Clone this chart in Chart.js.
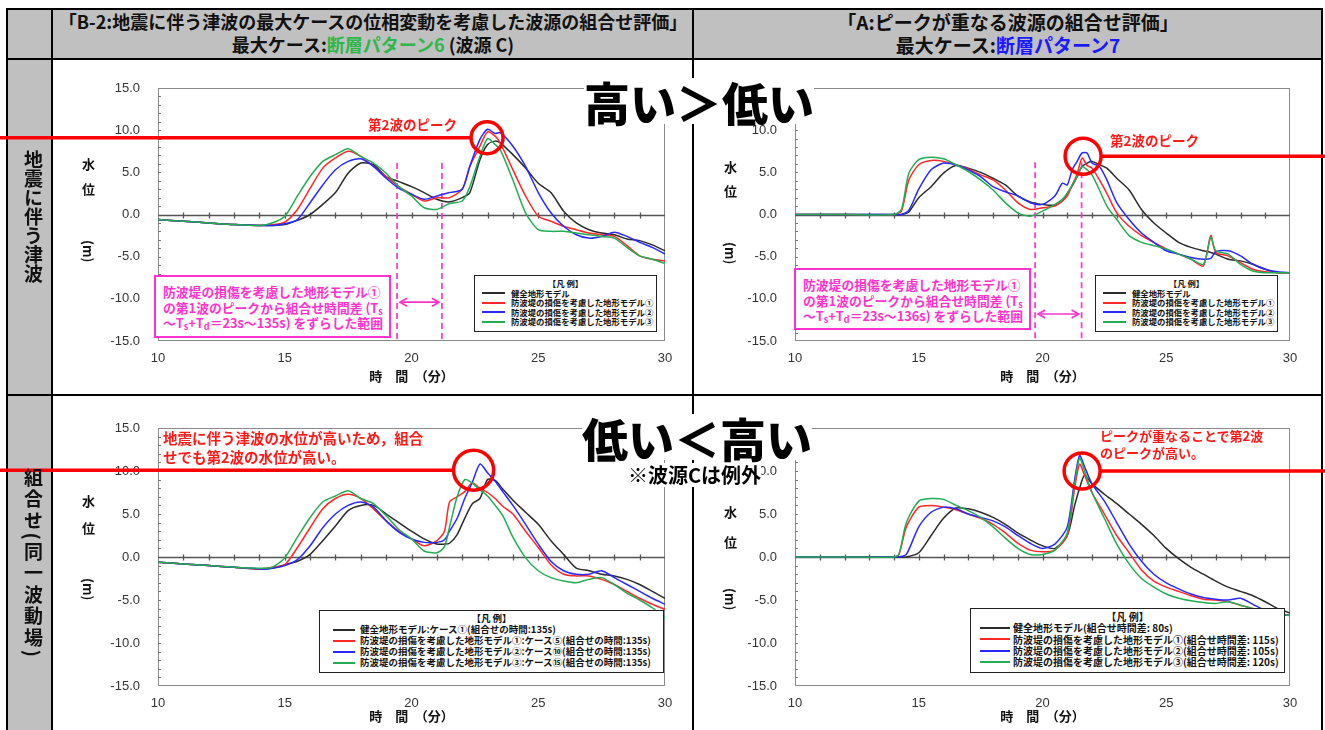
<!DOCTYPE html>
<html lang="ja">
<head>
<meta charset="utf-8">
<script src="https://cdn.jsdelivr.net/npm/chart.js@4.4.1/dist/chart.umd.min.js"></script>
<style>
  body { margin: 0; width: 1325px; height: 730px; overflow: hidden; background: #fff; position: relative;
         font-family: "Noto Sans CJK JP", sans-serif; }
  .gray { position: absolute; background: #c0c0c0; }
  .bk { position: absolute; background: #000; }
  canvas { position: absolute; z-index: 1; }
  .ov { position: absolute; z-index: 2; font-weight: bold; white-space: nowrap; }
  .hd { text-align: center; font-size: 18px; line-height: 23px; color: #111; }
  .side { writing-mode: vertical-rl; font-size: 19px; color: #111; }
  .big { font-size: 46px; line-height: 46px; background: #fff; color: #000; font-weight: 900; }
  .red { color: #ff1a1a; font-size: 13.5px; line-height: 19px; }
  .yt { font-size: 13px; line-height: 13px; color: #111; }
  .ym { writing-mode: vertical-rl; font-size: 13px; line-height: 13px; color: #111; }
  .mg { background: #fff; border: 2px solid #ff33cc; color: #ff33cc; font-size: 12.8px; line-height: 15.5px;
        padding: 7px 0 0 7px; box-sizing: border-box; }
  .mg sub { font-size: 9px; line-height: 0; vertical-align: -2px; }
  .lg { background: #fff; border: 1.5px solid #222; color: #111; box-sizing: border-box; }
  .lgt { text-align: center; }
  .lgr { position: relative; }
  .sw { position: absolute; display: block; top: calc(50% - 1px); height: 2px; }
</style>
</head>
<body>
<!-- table cells -->
<div class="gray" style="left:7px;top:9px;width:1315px;height:50px"></div>
<div class="gray" style="left:7px;top:59px;width:45px;height:671px"></div>
<div class="bk" style="left:6px;top:8px;width:1317px;height:2px"></div>
<div class="bk" style="left:6px;top:58px;width:1317px;height:2px"></div>
<div class="bk" style="left:6px;top:394px;width:1317px;height:2px"></div>
<div class="bk" style="left:6px;top:8px;width:2px;height:722px"></div>
<div class="bk" style="left:51px;top:8px;width:2px;height:722px"></div>
<div class="bk" style="left:692px;top:8px;width:2px;height:722px"></div>
<div class="bk" style="left:1321px;top:8px;width:2px;height:722px"></div>

<div class="ov hd" style="left:53px;top:10px;width:640px">「B-2:地震に伴う津波の最大ケースの位相変動を考慮した波源の組合せ評価」<br>最大ケース:<span style="color:#2db84d">断層パターン6</span> (波源 C)</div>
<div class="ov hd" style="left:694px;top:10px;width:628px;font-size:19px">「A:ピークが重なる波源の組合せ評価」<br>最大ケース:<span style="color:#1a1aff">断層パターン7</span></div>
<div class="ov side" style="left:20px;top:150px">地震に伴う津波</div>
<div class="ov side" style="left:20px;top:468px;letter-spacing:2.5px">組合せ(同一波動場)</div>

<canvas id="cTL" width="693" height="334" style="left:0;top:60px"></canvas>
<canvas id="cTR" width="631" height="334" style="left:694px;top:60px"></canvas>
<canvas id="cBL" width="693" height="334" style="left:0;top:396px"></canvas>
<canvas id="cBR" width="631" height="334" style="left:694px;top:396px"></canvas>

<!-- y axis titles -->
<div class="ov yt" style="left:82px;top:157px">水</div>
<div class="ov yt" style="left:82px;top:182px">位</div>
<div class="ov ym" style="left:82px;top:240px">(m)</div>
<div class="ov yt" style="left:724px;top:160px">水</div>
<div class="ov yt" style="left:724px;top:184px">位</div>
<div class="ov ym" style="left:724px;top:242px">(m)</div>
<div class="ov yt" style="left:82px;top:494px">水</div>
<div class="ov yt" style="left:82px;top:521px">位</div>
<div class="ov ym" style="left:82px;top:578px">(m)</div>
<div class="ov yt" style="left:724px;top:505px">水</div>
<div class="ov yt" style="left:724px;top:535px">位</div>
<div class="ov ym" style="left:724px;top:588px">(m)</div>

<!-- annotations -->
<div class="ov red" style="left:368px;top:115px">第2波のピーク</div>
<div class="ov red" style="left:1110px;top:131px">第2波のピーク</div>
<div class="ov red" style="left:163px;top:428px;font-size:14.5px">地震に伴う津波の水位が高いため，組合<br>せでも第2波の水位が高い。</div>
<div class="ov red" style="left:1100px;top:427px;line-height:17px;font-size:13px">ピークが重なることで第2波<br>のピークが高い。</div>

<div class="ov mg" style="left:154px;top:275px;width:237px;height:63px">防波堤の損傷を考慮した地形モデル①<br>の第1波のピークから組合せ時間差 (T<sub>s</sub><br>～T<sub>s</sub>+T<sub>d</sub>＝23s～135s) をずらした範囲</div>
<div class="ov mg" style="left:794px;top:268px;width:237px;height:62px">防波堤の損傷を考慮した地形モデル①<br>の第1波のピークから組合せ時間差 (T<sub>s</sub><br>～T<sub>s</sub>+T<sub>d</sub>＝23s～136s) をずらした範囲</div>

<div id="lgTL" class="ov lg" style="left:474px;top:275px;width:183px;height:57px;font-size:8.4px;line-height:9.5px;padding-top:3px"></div>
<div id="lgTR" class="ov lg" style="left:1095px;top:275px;width:183px;height:57px;font-size:8.4px;line-height:9.5px;padding-top:3px"></div>
<div id="lgBL" class="ov lg" style="left:319px;top:610px;width:345px;height:63px;font-size:9.5px;line-height:11px;padding-top:2px"></div>
<div id="lgBR" class="ov lg" style="left:970px;top:608px;width:315px;height:65px;font-size:10px;line-height:11.3px;padding-top:2px"></div>

<div class="ov big" style="left:584px;top:78px">高い＞低い</div>
<div class="ov big" style="left:582px;top:414px">低い＜高い</div>
<div class="ov" style="left:628px;top:463px;font-size:20px;line-height:24px;background:#fff;color:#000">※波源Cは例外</div>

<script>
// 時間 (分)
const T_TL = [10, 11, 12, 13, 14, 14.5, 15, 15.5, 16, 16.5, 17, 17.5, 18, 18.5, 19, 19.5, 20, 20.5, 21, 21.5, 22, 22.3, 22.7, 23, 23.3, 23.5, 24, 24.5, 25, 25.5, 26, 26.5, 27, 27.5, 28, 28.5, 29, 29.5, 30];
const T_TR = [10, 12, 14, 14.3, 14.6, 15, 15.5, 16, 16.5, 17, 17.5, 18, 18.5, 19, 19.5, 20, 20.5, 20.8, 21, 21.2, 21.4, 21.6, 21.8, 22, 22.3, 22.6, 23, 23.5, 24, 24.5, 25, 25.5, 26, 26.5, 26.8, 27, 27.5, 28, 28.5, 29, 29.5, 30];
const T_BL = [10, 11, 12, 13, 14, 14.5, 15, 15.5, 16, 16.5, 17, 17.5, 18, 18.5, 19, 19.5, 20, 20.5, 21, 21.3, 21.5, 21.8, 22.1, 22.4, 22.7, 23, 23.3, 23.6, 24, 24.5, 25, 25.5, 26, 26.5, 27, 27.5, 28, 28.5, 29, 29.5, 30];
const T_BR = [10, 12, 14, 14.2, 14.5, 15, 15.5, 16, 16.5, 17, 17.5, 18, 18.5, 19, 19.5, 20, 20.5, 21, 21.3, 21.5, 21.7, 22, 22.5, 23, 23.5, 24, 24.5, 25, 25.5, 26, 26.5, 27, 27.5, 28, 28.5, 29, 29.5, 30];

// 水位 (m) : 地震に伴う津波 / B-2
const TL_base = [-0.6,-0.8,-1.0,-1.2,-1.3,-1.3,-1.2,-0.7,0.0,1.2,2.6,4.9,6.1,5.9,4.5,3.9,3.3,2.6,1.8,1.5,2.0,2.6,6.5,8.3,8.7,8.5,7.1,5.5,3.7,2.6,0.4,-1.0,-1.8,-2.2,-2.4,-2.9,-3.1,-3.6,-4.3];
const TL_m1   = [-0.6,-0.8,-1.0,-1.2,-1.3,-1.2,-0.9,0.6,3.1,5.5,6.7,7.5,6.9,5.7,4.5,3.3,2.4,1.6,2.0,2.0,3.0,5.7,8.1,9.8,9.3,8.5,5.3,2.2,-0.2,-0.8,-1.4,-1.8,-2.2,-2.4,-2.6,-3.7,-4.9,-5.3,-5.5];
const TL_m2   = [-0.6,-0.8,-1.0,-1.2,-1.3,-1.3,-1.1,-0.6,1.4,3.5,5.3,6.3,6.6,5.7,4.3,3.1,2.4,1.8,2.2,2.6,3.0,5.7,8.9,10.1,9.6,9.7,8.1,5.7,2.6,0.2,-1.4,-2.4,-2.8,-2.6,-2.1,-2.6,-3.3,-3.9,-4.7];
const TL_m3   = [-0.6,-0.8,-1.0,-1.2,-1.3,-1.0,-0.2,2.2,4.5,6.3,7.1,7.8,6.9,6.1,4.9,3.3,2.2,0.8,0.6,1.3,1.6,3.3,6.9,9.0,8.3,7.7,4.1,0.2,-1.8,-2.0,-2.0,-2.2,-2.4,-2.6,-2.8,-3.9,-4.9,-5.3,-5.8];

// 地震に伴う津波 / A
const TR_base = [0,0,0,0,0.3,2.0,3.3,4.9,5.8,5.5,5.0,4.3,3.5,2.2,1.5,1.2,1.1,1.6,2.5,3.4,4.5,5.7,6.1,6.3,5.9,5.5,4.3,2.9,0.6,-1.0,-2.2,-3.3,-3.9,-4.3,-4.5,-4.7,-5.3,-5.5,-5.9,-6.5,-6.9,-6.9];
const TR_m1   = [0,0,0,0.4,4.1,5.9,6.4,6.3,5.9,5.4,4.7,4.1,2.9,1.4,0.6,0.8,1.0,1.6,2.2,3.5,4.8,6.7,5.8,5.5,4.1,2.5,0.2,-1.4,-2.5,-3.3,-4.1,-4.7,-5.3,-6.1,-2.5,-4.5,-4.9,-5.7,-6.5,-6.8,-6.9,-6.9];
const TR_m2   = [0,0,0,0,0.5,3.0,5.3,6.1,5.9,5.3,4.5,3.3,2.7,2.2,1.4,1.2,2.2,3.7,3.5,5.3,6.3,7.3,7.3,6.1,5.7,4.1,1.4,-0.6,-2.2,-3.3,-4.3,-4.7,-5.1,-5.3,-5.2,-4.4,-4.3,-4.9,-5.9,-6.5,-6.8,-6.9];
const TR_m3   = [0,0,0,0.6,4.9,6.5,6.8,6.6,5.9,5.1,4.1,2.9,1.4,0.2,-0.2,0.4,1.2,1.8,2.5,3.5,4.5,5.7,5.3,4.7,2.9,1.0,-0.6,-2.5,-3.3,-3.7,-4.1,-4.7,-5.3,-5.9,-2.7,-4.3,-4.7,-5.9,-6.7,-6.9,-6.9,-6.9];

// 組合せ（同一波動場） / B-2
const BL_base = [-0.6,-0.8,-1.0,-1.2,-1.4,-1.3,-0.9,-0.5,0.3,1.9,3.6,5.4,6.0,6.0,5.0,4.0,3.0,2.1,1.5,1.5,1.6,2.6,4.5,6.2,6.8,9.0,8.9,7.9,6.6,5.2,3.8,1.9,0.3,-1.3,-1.6,-2.0,-2.2,-2.6,-3.2,-4.0,-4.8];
const BL_m1   = [-0.6,-0.8,-1.0,-1.2,-1.4,-1.2,-0.9,1.1,3.4,5.6,6.8,7.3,6.8,5.6,4.2,3.0,2.1,1.3,1.9,3.0,6.4,7.0,7.6,8.6,8.0,7.5,6.8,5.9,5.0,3.0,1.1,-0.9,-2.0,-2.2,-2.2,-2.6,-3.2,-4.0,-4.8,-5.5,-6.1];
const BL_m2   = [-0.6,-0.8,-1.0,-1.2,-1.4,-1.3,-1.0,-0.3,1.3,3.4,5.0,6.0,6.4,5.8,4.2,2.9,2.1,1.7,1.7,2.0,3.0,4.5,6.8,8.7,10.8,9.8,8.8,7.6,6.0,3.8,1.5,-0.5,-1.6,-2.0,-2.0,-1.6,-2.4,-3.2,-4.0,-4.8,-5.5];
const BL_m3   = [-0.6,-0.8,-1.0,-1.2,-1.3,-1.2,-0.1,2.3,4.6,6.4,7.1,7.7,6.8,6.2,4.8,3.2,2.1,0.7,0.5,1.2,3.5,7.0,9.0,8.6,7.8,7.1,6.0,4.8,2.3,-0.1,-1.6,-2.4,-2.8,-3.0,-2.6,-2.4,-3.2,-4.2,-5.0,-5.9,-7.1];

// 組合せ（同一波動場） / A
const BR_base = [0,0,0,0,0,0.5,2.5,4.5,5.7,5.6,5.2,4.6,3.8,2.8,2.0,1.3,1.0,2.5,6.0,8.0,9.5,8.5,7.3,6.2,5.0,3.8,2.5,1.0,-0.2,-1.2,-2.0,-2.8,-3.5,-4.0,-4.5,-5.2,-6.0,-6.5];
const BR_m1   = [0,0,0,0.3,3.5,5.8,6.0,5.8,5.5,5.0,4.5,3.8,2.8,1.6,0.8,0.6,0.8,2.5,8.0,10.8,9.5,7.5,5.0,2.5,0.5,-1.5,-2.8,-3.5,-4.0,-4.5,-4.9,-5.0,-5.2,-5.6,-6.0,-6.3,-6.6,-6.8];
const BR_m2   = [0,0,0,0,0.3,3.5,5.2,5.8,5.6,5.0,4.6,4.2,3.5,2.5,1.6,1.0,1.5,3.5,9.0,11.8,10.5,8.5,6.5,4.0,1.5,-0.5,-2.0,-3.0,-3.7,-4.3,-4.7,-4.9,-5.0,-4.8,-5.5,-6.2,-6.6,-6.8];
const BR_m3   = [0,0,0,0.3,4.0,6.5,6.8,6.7,6.0,5.4,4.6,3.5,2.2,1.0,0.3,0.3,0.8,2.8,8.5,11.5,10.0,7.5,4.5,1.5,-0.8,-2.5,-3.5,-4.3,-4.8,-5.1,-5.3,-5.4,-5.2,-5.6,-6.0,-6.4,-6.7,-6.8];

const COLORS = ['#2b2b2b', '#ff2828', '#2828ff', '#22ad55'];
const LEG_TOP = ['健全地形モデル', '防波堤の損傷を考慮した地形モデル①', '防波堤の損傷を考慮した地形モデル②', '防波堤の損傷を考慮した地形モデル③'];
const LEG_BL = ['健全地形モデル:ケース①(組合せの時間:135s)', '防波堤の損傷を考慮した地形モデル①:ケース⑤(組合せの時間:135s)', '防波堤の損傷を考慮した地形モデル②:ケース⑩(組合せの時間:135s)', '防波堤の損傷を考慮した地形モデル③:ケース⑮(組合せの時間:135s)'];
const LEG_BR = ['健全地形モデル(組合せ時間差: 80s)', '防波堤の損傷を考慮した地形モデル①(組合せ時間差: 115s)', '防波堤の損傷を考慮した地形モデル②(組合せ時間差: 105s)', '防波堤の損傷を考慮した地形モデル③(組合せ時間差: 120s)'];
const Y_TICKS = [-15, -10, -5, 0, 5, 10, 15];
const X_TICKS = [10, 15, 20, 25, 30];

const MAGENTA = '#ff33cc';
Chart.defaults.font.family = "'Liberation Sans', 'Noto Sans CJK JP', sans-serif";

// 枠・ゼロ線・組合せ時間差の範囲・第2波ピークの丸
function makeDecor(cfg) {
  return {
    id: 'decor',
    beforeDatasetsDraw(chart) {
      const { ctx, chartArea: a, scales: { x, y } } = chart;
      const seg = (x1, y1, x2, y2) => { ctx.beginPath(); ctx.moveTo(x1, y1); ctx.lineTo(x2, y2); ctx.stroke(); };
      ctx.save();
      ctx.lineWidth = 1;
      ctx.strokeStyle = '#8a8a8a';
      ctx.strokeRect(a.left + 0.5, a.top + 0.5, a.right - a.left - 1, a.bottom - a.top - 1);
      ctx.strokeStyle = '#777';
      for (let v = Y_TICKS[0] + 1; v < Y_TICKS[Y_TICKS.length - 1]; v++) {
        const py = Math.round(y.getPixelForValue(v)) + 0.5;
        seg(a.left, py, a.left + 3, py);
      }
      const y0 = Math.round(y.getPixelForValue(0)) + 0.5;
      ctx.strokeStyle = '#555';
      ctx.lineWidth = 1.3;
      seg(a.left, y0, a.right, y0);
      for (let t = X_TICKS[0] + 1; t < X_TICKS[X_TICKS.length - 1]; t++) {
        const px = Math.round(x.getPixelForValue(t)) + 0.5;
        seg(px, y0 - 3, px, y0 + 3);
      }
      if (cfg.shift) {
        const s = cfg.shift;
        ctx.strokeStyle = MAGENTA;
        ctx.lineWidth = 1.7;
        ctx.setLineDash([6, 4]);
        s.at.forEach(t => {
          const px = x.getPixelForValue(t);
          seg(px, y.getPixelForValue(s.top), px, a.bottom);
        });
        ctx.setLineDash([]);
        const ya = y.getPixelForValue(s.arrow);
        const x1 = x.getPixelForValue(s.at[0]) + 3, x2 = x.getPixelForValue(s.at[1]) - 3;
        seg(x1, ya, x2, ya);
        ctx.beginPath();
        ctx.moveTo(x1 + 7, ya - 4); ctx.lineTo(x1, ya); ctx.lineTo(x1 + 7, ya + 4);
        ctx.moveTo(x2 - 7, ya - 4); ctx.lineTo(x2, ya); ctx.lineTo(x2 - 7, ya + 4);
        ctx.stroke();
      }
      ctx.restore();
    },
    afterDatasetsDraw(chart) {
      const { ctx, scales: { x, y } } = chart;
      const p = cfg.peak;
      const cx = x.getPixelForValue(p.t), cy = y.getPixelForValue(p.v);
      ctx.save();
      ctx.strokeStyle = '#ff0000';
      ctx.lineWidth = 3.5;
      ctx.beginPath();
      ctx.arc(cx, cy, p.r, 0, Math.PI * 2);
      ctx.stroke();
      ctx.beginPath();
      if (p.side === 'left') { ctx.moveTo(0, cy); ctx.lineTo(cx - p.r, cy); }
      else { ctx.moveTo(cx + p.r, cy); ctx.lineTo(chart.width, cy); }
      ctx.stroke();
      ctx.restore();
    }
  };
}

function makeChart(id, times, series, cfg) {
  const datasets = series.map((vals, i) => ({
    label: cfg.labels[i],
    data: times.map((t, k) => ({ x: t, y: vals[k] })),
    borderColor: COLORS[i],
    borderWidth: 1.5,
    pointRadius: 0,
    tension: 0.25,
    fill: false,
    order: 4 - i
  }));
  new Chart(document.getElementById(id), {
    type: 'line',
    data: { datasets },
    options: {
      responsive: false,
      animation: false,
      devicePixelRatio: 1,
      layout: { padding: cfg.pad },
      plugins: { legend: { display: false }, tooltip: { enabled: false } },
      scales: {
        x: {
          type: 'linear', min: X_TICKS[0], max: X_TICKS[X_TICKS.length - 1],
          grid: { display: false, drawTicks: false }, border: { display: false },
          afterBuildTicks: s => { s.ticks = X_TICKS.map(v => ({ value: v })); },
          ticks: { padding: 10, color: '#333', font: { size: 13 }, callback: v => String(v) },
          title: { display: true, text: '時　間　（分）', color: '#111', font: { size: 13, weight: 'bold' }, padding: { top: 2, bottom: 3 } },
          afterFit: s => { s.height = cfg.xh; }
        },
        y: {
          min: Y_TICKS[0], max: Y_TICKS[Y_TICKS.length - 1],
          grid: { display: false, drawTicks: false }, border: { display: false },
          afterBuildTicks: s => { s.ticks = Y_TICKS.map(v => ({ value: v })); },
          ticks: { padding: 18, color: '#333', font: { size: 13 }, callback: v => v.toFixed(1) },
          afterFit: s => { s.width = 58; }
        }
      }
    },
    plugins: [makeDecor(cfg)]
  });
}

function makeLegend(id, labels, o) {
  const el = document.getElementById(id);
  el.innerHTML = '<div class="lgt">【凡 例】</div>' + labels.map((l, i) =>
    `<div class="lgr" style="padding-left:${o.text}px"><span class="sw" style="left:${o.sl}px;width:${o.sw}px;background:${COLORS[i]}"></span>${l}</div>`
  ).join('');
}

makeChart('cTL', T_TL, [TL_base, TL_m1, TL_m2, TL_m3], {
  labels: LEG_TOP, pad: { left: 100, right: 28, top: 28, bottom: 6 }, xh: 47,
  shift: { at: [19.43, 21.2], top: 6.1, arrow: -10.4 },
  peak: { t: 22.98, v: 9.1, r: 16, side: 'left' }
});
makeChart('cTR', T_TR, [TR_base, TR_m1, TR_m2, TR_m3], {
  labels: LEG_TOP, pad: { left: 43, right: 35, top: 28, bottom: 6 }, xh: 47,
  shift: { at: [19.7, 21.58], top: 6.2, arrow: -11.8 },
  peak: { t: 21.64, v: 6.9, r: 18, side: 'right' }
});
makeChart('cBL', T_BL, [BL_base, BL_m1, BL_m2, BL_m3], {
  labels: LEG_BL, pad: { left: 100, right: 28, top: 32, bottom: 2 }, xh: 42,
  peak: { t: 22.45, v: 10.1, r: 20, side: 'left' }
});
makeChart('cBR', T_BR, [BR_base, BR_m1, BR_m2, BR_m3], {
  labels: LEG_BR, pad: { left: 43, right: 35, top: 32, bottom: 2 }, xh: 42,
  peak: { t: 21.6, v: 10.0, r: 18, side: 'right' }
});

makeLegend('lgTL', LEG_TOP, { sl: 7, sw: 23, text: 36 });
makeLegend('lgTR', LEG_TOP, { sl: 7, sw: 23, text: 36 });
makeLegend('lgBL', LEG_BL, { sl: 13, sw: 22, text: 40 });
makeLegend('lgBR', LEG_BR, { sl: 9, sw: 30, text: 42 });
</script>
</body>
</html>
